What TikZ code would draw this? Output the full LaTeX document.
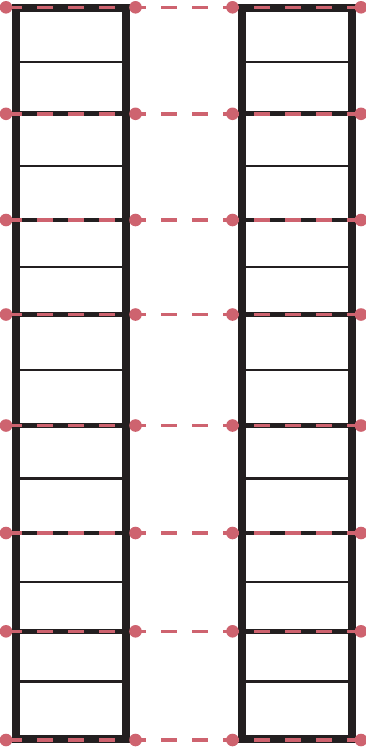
\documentclass[tikz,border=0pt]{standalone}
\definecolor{ink}{RGB}{35,31,32}
\definecolor{rose}{RGB}{206,99,111}
\begin{document}
\begin{tikzpicture}[x=1pt,y=-1pt,
  frame/.style={draw=ink,line width=7.7pt},
  rung/.style={draw=ink,line width=4.7pt},
  thinrung/.style={draw=ink,line width=2.2pt},
  tie/.style={draw=rose,line width=3.6pt,dash pattern=on 15.5pt off 15.5pt},
  dot/.style={fill=rose}]
\useasboundingbox (0,0) rectangle (366,747);
% columns
\foreach \xl/\xr in {16.2/126, 242.2/352.2}{
  \draw[frame] (\xl,8.3) rectangle (\xr,739);
  \foreach \y in {113.8,220,314.5,425.5,533,631.3}
    \draw[rung] (\xl,\y) -- (\xr,\y);
  \foreach \y in {62.2,166.2,267.2,370,478.5,582.2,681.5}
    \draw[thinrung] (\xl,\y) -- (\xr,\y);
}
% dashed ties with dots
\foreach \y in {7.3,113.8,220,314.5,425.5,533,631.3,740}{
  \coordinate (a) at (6,\y);
  \coordinate (b) at (135.5,\y);
  \coordinate (c) at (232.5,\y);
  \coordinate (d) at (361,\y);
  \draw[tie] (a) -- (d);
  \foreach \p in {a,b,c,d}
    \fill[dot] (\p) circle (6.3);
}
\end{tikzpicture}
\end{document}
